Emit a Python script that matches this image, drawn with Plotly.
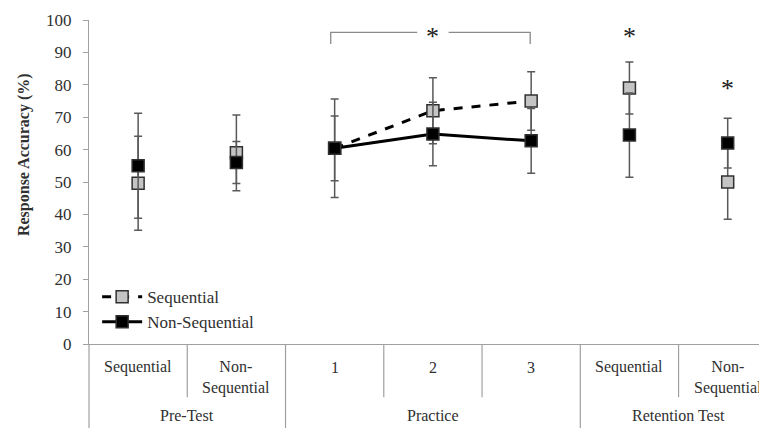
import plotly.graph_objects as go

# ---- data ----
categories = ["Sequential", "Non-<br>Sequential", "1", "2", "3", "Sequential", "Non-<br>Sequential"]
groups = ["Pre-Test", "Practice", "Retention Test"]
group_sizes = [2, 3, 2]
seq_mean = [49.6, 59.0, 60.4, 72.0, 75.0, 79.0, 50.0]
seq_err = [14.5, 11.7, 15.2, 10.2, 9.0, 8.0, 11.5]
non_mean = [55.0, 56.0, 60.4, 64.8, 62.7, 64.5, 62.0]
non_err = [16.2, 6.5, 10.0, 9.8, 10.0, 13.0, 7.7]
y_ticks = [0, 10, 20, 30, 40, 50, 60, 70, 80, 90, 100]
sig_bracket = (2, 4)          # Practice 1 .. Practice 3
sig_points = [(5, 96.2), (6, 80.0)]
bracket_y = 96.2

FONT = "Liberation Serif, Times New Roman, serif"
TXT = "#303030"
AX = "#a0a0a0"
ERR = "#595959"


def serif(t):
    return "<span style='font-family:Liberation Serif'>" + t.replace(
        "<br>", "</span><br><span style='font-family:Liberation Serif'>") + "</span>"


xs = list(range(len(categories)))
fig = go.Figure()

segments = [(0, 2, "markers"), (2, 5, "lines+markers"), (5, 7, "markers")]

def add_series(mean, err, name, fill, dash, show_idx):
    for k, (a, b, mode) in enumerate(segments):
        fig.add_trace(go.Scatter(
            x=xs[a:b], y=mean[a:b], mode=mode, name=serif(name),
            showlegend=(k == show_idx),
            line=dict(color="black", width=3, dash=dash),
            marker=dict(symbol="square", size=12, color=fill,
                        line=dict(color="#303030", width=1.5)),
            error_y=dict(type="data", array=err[a:b], visible=True,
                         color=ERR, thickness=1.5, width=4),
        ))

add_series(seq_mean, seq_err, "Sequential", "#c4c4c4", "dash", 1)
add_series(non_mean, non_err, "Non-Sequential", "black", "solid", 1)

shapes = []
bound = 0
group_bounds = []
for s in group_sizes:
    bound += s
    group_bounds.append(bound)
for i in range(1, len(categories)):
    b = i - 0.5
    long = i in group_bounds
    shapes.append(dict(type="line", xref="x", yref="paper", x0=b, x1=b,
                       y0=0, y1=-0.26 if long else -0.164,
                       line=dict(color=AX, width=1.2)))
shapes.append(dict(type="line", xref="paper", yref="paper", x0=0, x1=0,
                   y0=0, y1=-0.26, line=dict(color=AX, width=1.2)))

a, b = sig_bracket
xl, xr = a - 0.04, b - 0.01
mid = (a + b) / 2
gap = 0.16
bcol = "#8a8a8a"
shapes.append(dict(type="path", xref="x", yref="y",
                   path=f"M {xl},{bracket_y-3.6} L {xl},{bracket_y} L {mid-gap},{bracket_y}",
                   line=dict(color=bcol, width=1.3)))
shapes.append(dict(type="path", xref="x", yref="y",
                   path=f"M {mid+gap},{bracket_y} L {xr},{bracket_y} L {xr},{bracket_y-3.6}",
                   line=dict(color=bcol, width=1.3)))

annotations = []
for (px, py) in [(mid, bracket_y)] + sig_points:
    annotations.append(dict(x=px, y=py, xref="x", yref="y", text="*",
                            showarrow=False, font=dict(family=FONT, size=26, color="#202020"),
                            yanchor="middle", yshift=-4))

for i, c in enumerate(categories):
    two = "<br>" in c
    annotations.append(dict(x=i, y=-0.071 if not two else -0.102, xref="x", yref="paper",
                            text=serif(c), showarrow=False, yanchor="middle",
                            font=dict(family=FONT, size=16, color=TXT)))
start = 0
for g, s in zip(groups, group_sizes):
    annotations.append(dict(x=start + (s - 1) / 2, y=-0.222, xref="x", yref="paper",
                            text=serif(g), showarrow=False, yanchor="middle",
                            font=dict(family=FONT, size=16, color=TXT)))
    start += s

annotations.append(dict(x=-0.096, y=0.586, xref="paper", yref="paper",
                        text="<b>Response Accuracy (%)</b>", textangle=-90,
                        xanchor="center", yanchor="middle",
                        showarrow=False, font=dict(family=FONT, size=16, color=TXT)))

# page body adds an 8px offset; size the figure to fit the window
fig.update_layout(
    width=759, height=420,
    margin=dict(l=81, r=0, t=12, b=84),
    paper_bgcolor="white", plot_bgcolor="white",
    font=dict(family=FONT, color=TXT),
    showlegend=True,
    legend=dict(x=0.012, y=0.2, xanchor="left", yanchor="top",
                font=dict(family=FONT, size=17, color=TXT),
                bgcolor="rgba(0,0,0,0)", tracegroupgap=0, itemwidth=40),
    shapes=shapes, annotations=annotations,
    xaxis=dict(range=[-0.5, 6.4], showticklabels=False, showgrid=False,
               zeroline=False, showline=True, linecolor=AX, linewidth=1.2,
               ticks=""),
    yaxis=dict(range=[0, 100], tickvals=y_ticks,
               ticktext=[serif(str(v)) for v in y_ticks],
               showgrid=False, zeroline=False,
               showline=True, linecolor=AX, linewidth=1.2, ticks="outside",
               ticklen=5, tickcolor=AX, ticklabelstandoff=8,
               tickfont=dict(family=FONT, size=17, color=TXT)),
)

fig.write_html("out.html")
